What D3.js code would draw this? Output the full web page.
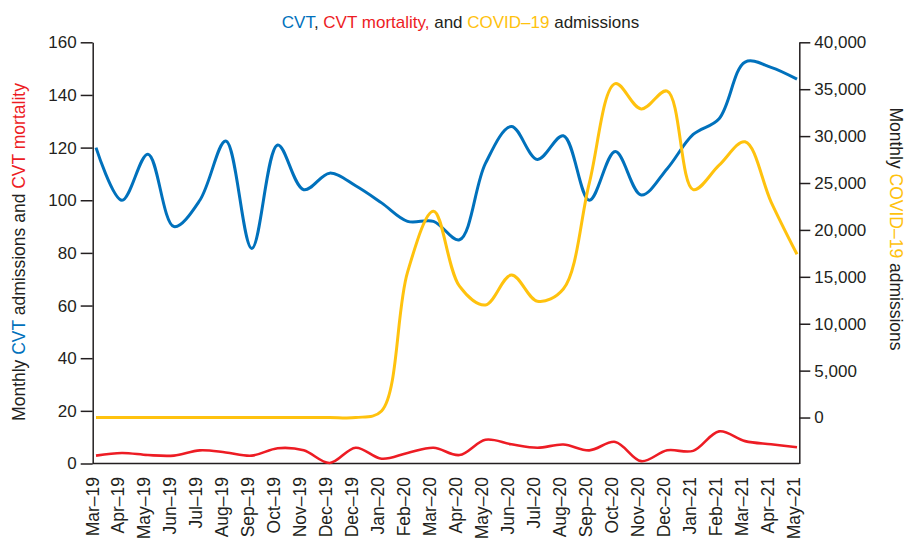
<!DOCTYPE html>
<html><head><meta charset="utf-8">
<script src="https://cdn.jsdelivr.net/npm/d3@7"></script>
<style>
body{margin:0;background:#fff;}
svg{display:block;font-family:"Liberation Sans",Arial,sans-serif;}
</style></head><body>
<svg id="chart" width="907" height="538"></svg>
<script>
const months = ["Mar–19","Apr–19","May–19","Jun–19","Jul–19","Aug–19","Sep–19","Oct–19","Nov–19","Dec–19","Dec–19","Jan–20","Feb–20","Mar–20","Apr–20","May–20","Jun–20","Jul–20","Aug–20","Sep–20","Oct–20","Nov–20","Dec–20","Jan–21","Feb–21","Mar–21","Apr–21","May–21"];
const cvtAdmissions = [120,100,117.5,90,100,122.5,81.7,121,104,110.3,105.5,99,92,92,85,114,128,115.5,124.5,100,118.5,102,112,125,131,152.5,150.5,146];
const cvtMortality = [3,4,3.2,3,5,4.2,3,5.8,5,0.2,6,1.8,4,6,3.2,9,7.3,6,7.2,5,8.2,0.9,5,4.8,12.2,8.5,7.3,6.2];
const covidAdmissions = [0,0,0,0,0,0,0,0,0,0,0,700,15500,22000,14000,12000,15200,12400,13700,25000,35600,32900,34800,24300,26900,29400,23000,17400];
const leftTicks = [0,20,40,60,80,100,120,140,160];
const rightTicks = [0,5000,10000,15000,20000,25000,30000,35000,40000];

const BLUE = "#0071bc", RED = "#ed1c24", YELLOW = "#ffc20e", INK = "#231f20";
const svg = d3.select("#chart");

const plotLeft = 92.7, plotRight = 799.3, plotTop = 42.3, plotBottom = 463.5;
const x = d3.scalePoint().domain(d3.range(months.length)).range([96, 797]);
const yL = d3.scaleLinear().domain([0, 160]).range([plotBottom, plotTop]);
const yR = d3.scaleLinear().domain([-4900, 40000]).range([plotBottom, plotTop]);

// Left axis
const gL = svg.append("g").attr("transform", `translate(${plotLeft},0)`)
  .call(d3.axisLeft(yL).tickValues(leftTicks).tickSize(12).tickSizeOuter(0).tickPadding(4));
// Right axis
const gR = svg.append("g").attr("transform", `translate(${plotRight},0)`)
  .call(d3.axisRight(yR).tickValues(rightTicks).tickFormat(d3.format(",")).tickSize(11).tickSizeOuter(0).tickPadding(4));
[gL, gR].forEach(g => {
  g.selectAll("path.domain, line").attr("stroke", INK).attr("stroke-width", 1.5);
  g.selectAll("text").attr("fill", INK).style("font-size", "17px");
});

// Bottom axis labels
const gB = svg.append("g").attr("transform", `translate(0,${plotBottom})`)
  .call(d3.axisBottom(x).tickSize(0).tickFormat(i => months[i]));
gB.select("path.domain").remove();
gB.selectAll("text")
  .attr("transform", "rotate(-90)")
  .attr("text-anchor", "end")
  .attr("x", -13.5).attr("y", 2).attr("dy", 0)
  .attr("fill", INK).style("font-size", "17.5px");
svg.append("line")
  .attr("x1", plotLeft).attr("x2", plotRight)
  .attr("y1", plotBottom).attr("y2", plotBottom)
  .attr("stroke", INK).attr("stroke-width", 1.5);

// Lines
const curve = d3.curveCatmullRom.alpha(0.5);
const lineL = d3.line().x((d, i) => x(i)).y(d => yL(d)).curve(curve);
const lineR = d3.line().x((d, i) => x(i)).y(d => yR(d)).curve(curve);
svg.append("path").datum(cvtMortality).attr("d", lineL)
  .attr("fill", "none").attr("stroke", RED).attr("stroke-width", 2.6);
svg.append("path").datum(cvtAdmissions).attr("d", lineL)
  .attr("fill", "none").attr("stroke", BLUE).attr("stroke-width", 3);
svg.append("path").datum(covidAdmissions).attr("d", lineR)
  .attr("fill", "none").attr("stroke", YELLOW).attr("stroke-width", 3);

// Title
const title = svg.append("text").attr("x", 460.5).attr("y", 28)
  .attr("text-anchor", "middle").style("font-size", "17px").attr("fill", INK);
[["CVT", BLUE], [", ", INK], ["CVT mortality,", RED], [" and ", INK], ["COVID–19", YELLOW], [" admissions", INK]]
  .forEach(([t, c]) => title.append("tspan").attr("fill", c).text(t));

// Left axis title
const lt = svg.append("text").attr("transform", "translate(25,252) rotate(-90)")
  .attr("text-anchor", "middle").style("font-size", "17.5px").attr("fill", INK);
[["Monthly ", INK], ["CVT", BLUE], [" admissions and ", INK], ["CVT mortality", RED]]
  .forEach(([t, c]) => lt.append("tspan").attr("fill", c).text(t));

// Right axis title
const rt = svg.append("text").attr("transform", "translate(890,229) rotate(90)")
  .attr("text-anchor", "middle").style("font-size", "17.5px").attr("fill", INK);
[["Monthly ", INK], ["COVID–19", YELLOW], [" admissions", INK]]
  .forEach(([t, c]) => rt.append("tspan").attr("fill", c).text(t));
</script>
</body></html>
